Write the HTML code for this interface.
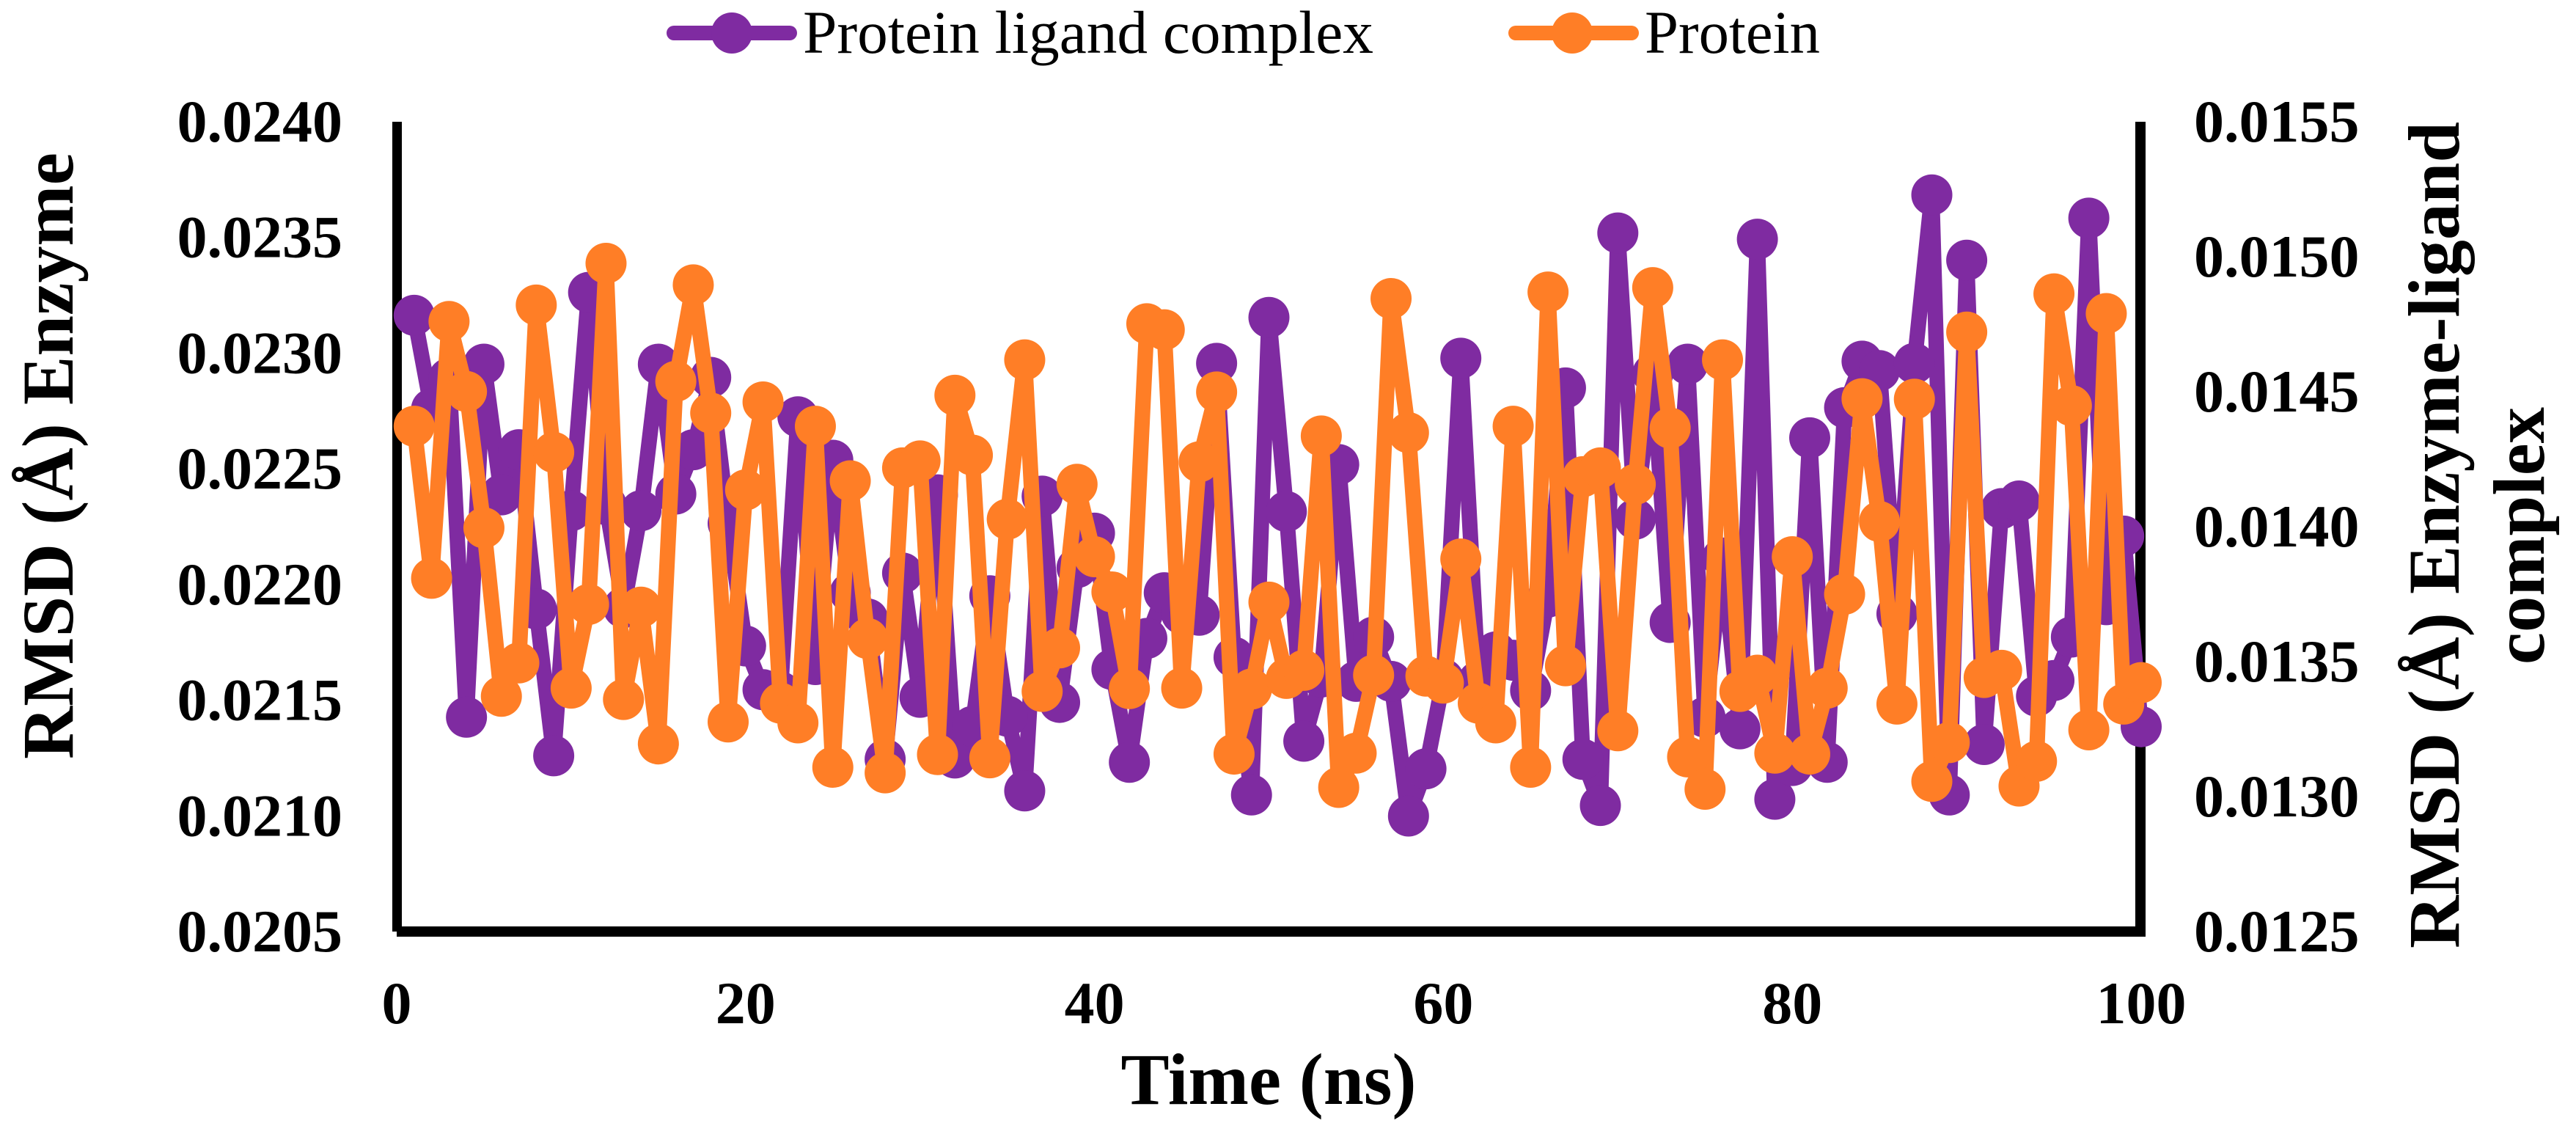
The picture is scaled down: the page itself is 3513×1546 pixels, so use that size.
<!DOCTYPE html>
<html lang="en">
<head>
<meta charset="utf-8">
<title>RMSD over time</title>
<style>
  html, body { margin: 0; padding: 0; background: #ffffff; }
  svg { display: block; }
  text { font-family: "Liberation Serif", serif; fill: #000000; }
  .tick { font-size: 82px; font-weight: 700; }
  .title { font-size: 100px; font-weight: 700; }
  .legend { font-size: 83px; font-weight: 400; }
</style>
</head>
<body>
<svg id="chart" xmlns="http://www.w3.org/2000/svg" width="3513" height="1546" viewBox="0 0 3513 1546">
  <rect x="0" y="0" width="3513" height="1546" fill="#ffffff"/>
  <g>
    <rect x="535" y="166" width="13" height="1104" fill="#000"/>
    <rect x="2912" y="166" width="14" height="1111" fill="#000"/>
    <rect x="541" y="1263" width="2385" height="14" fill="#000"/>
  </g>
  <g id="x-ticks"></g>
  <g id="left-ticks"></g>
  <g id="right-ticks"></g>
  <g id="series"></g>

  <text class="title" x="1730" y="1505" text-anchor="middle" textLength="403" lengthAdjust="spacingAndGlyphs">Time (ns)</text>
  <text class="title" transform="translate(99 621.5) rotate(-90)" text-anchor="middle" textLength="827" lengthAdjust="spacingAndGlyphs">RMSD (Å) Enzyme</text>
  <text class="title" transform="translate(3353 729.5) rotate(-90)" text-anchor="middle" textLength="1127" lengthAdjust="spacingAndGlyphs">RMSD (Å) Enzyme-ligand</text>
  <text class="title" transform="translate(3469 730.5) rotate(-90)" text-anchor="middle" textLength="351" lengthAdjust="spacingAndGlyphs">complex</text>

  <g>
    <g>
      <line x1="919" y1="45" x2="1077" y2="45" stroke="#7f2ba1" stroke-width="20" stroke-linecap="round"/>
      <circle cx="998" cy="45" r="28" fill="#7f2ba1"/>
      <text class="legend" x="1095" y="72" textLength="778" lengthAdjust="spacingAndGlyphs">Protein ligand complex</text>
    </g>
    <g>
      <line x1="2067" y1="45" x2="2225" y2="45" stroke="#ff7e26" stroke-width="20" stroke-linecap="round"/>
      <circle cx="2144" cy="45" r="28" fill="#ff7e26"/>
      <text class="legend" x="2243" y="72" textLength="239" lengthAdjust="spacingAndGlyphs">Protein</text>
    </g>
  </g>
</svg>
<script>
const xTickLabels = ["0", "20", "40", "60", "80", "100"];
const leftTickLabels = ["0.0205", "0.0210", "0.0215", "0.0220", "0.0225", "0.0230", "0.0235", "0.0240"];
const rightTickLabels = ["0.0125", "0.0130", "0.0135", "0.0140", "0.0145", "0.0150", "0.0155"];

const complexRmsd = [
  0.014783, 0.014436, 0.014550, 0.013294, 0.014602, 0.014118, 0.014285, 0.013695, 0.013151, 0.014059,
  0.014868, 0.014082, 0.013700, 0.014059, 0.014602, 0.014121, 0.014285, 0.014553, 0.014012, 0.013558,
  0.013396, 0.013388, 0.014407, 0.013489, 0.014246, 0.013755, 0.013658, 0.013138, 0.013828, 0.013368,
  0.014118, 0.013143, 0.013260, 0.013744, 0.013298, 0.013021, 0.014113, 0.013349, 0.013848, 0.013976,
  0.013471, 0.013127, 0.013586, 0.013755, 0.013677, 0.013672, 0.014605, 0.013516, 0.013006, 0.014775,
  0.014056, 0.013205, 0.013443, 0.014230, 0.013427, 0.013591, 0.013427, 0.012928, 0.013103, 0.013435,
  0.014624, 0.013427, 0.013536, 0.013505, 0.013393, 0.013739, 0.014514, 0.013138, 0.012967, 0.015088,
  0.014028, 0.014566, 0.013645, 0.014602, 0.013294, 0.013884, 0.013251, 0.015065, 0.012990, 0.013115,
  0.014329, 0.013127, 0.014441, 0.014613, 0.014578, 0.013677, 0.014605, 0.015229, 0.013006, 0.014987,
  0.013193, 0.014067, 0.014095, 0.013372, 0.013430, 0.013591, 0.015143, 0.013711, 0.013965, 0.013259
];

const proteinRmsd = [
  0.022684, 0.022027, 0.023137, 0.022834, 0.022245, 0.021517, 0.021661, 0.023208, 0.022571, 0.021552,
  0.021914, 0.023388, 0.021503, 0.021902, 0.021311, 0.022878, 0.023295, 0.022741, 0.021406, 0.022409,
  0.022789, 0.021487, 0.021402, 0.022684, 0.021210, 0.022448, 0.021766, 0.021186, 0.022504, 0.022534,
  0.021265, 0.022818, 0.022559, 0.021251, 0.022282, 0.022971, 0.021538, 0.021726, 0.022433, 0.022120,
  0.021968, 0.021550, 0.023127, 0.023101, 0.021552, 0.022530, 0.022832, 0.021267, 0.021548, 0.021924,
  0.021594, 0.021629, 0.022642, 0.021123, 0.021271, 0.021608, 0.023236, 0.022656, 0.021604, 0.021574,
  0.022110, 0.021487, 0.021402, 0.022684, 0.021210, 0.023264, 0.021649, 0.022466, 0.022504, 0.021368,
  0.022433, 0.023283, 0.022676, 0.021255, 0.021115, 0.022971, 0.021538, 0.021608, 0.021271, 0.022120,
  0.021267, 0.021552, 0.021958, 0.022803, 0.022272, 0.021483, 0.022801, 0.021149, 0.021317, 0.023091,
  0.021598, 0.021629, 0.021129, 0.021236, 0.023256, 0.022773, 0.021372, 0.023171, 0.021483, 0.021576
];

const SVG_NS = "http://www.w3.org/2000/svg";
const plotTop = 166, plotBottom = 1270, plotLeft = 541, plotRight = 2920;

function xScale(t) { return plotLeft + (t / 100) * (plotRight - plotLeft); }
function yLeft(v) { return plotBottom - ((v - 0.0205) / (0.0240 - 0.0205)) * (plotBottom - plotTop); }
function yRight(v) { return plotBottom - ((v - 0.0125) / (0.0155 - 0.0125)) * (plotBottom - plotTop); }

function addTickText(parentId, label, x, y, anchor) {
  const t = document.createElementNS(SVG_NS, "text");
  t.setAttribute("class", "tick");
  t.setAttribute("x", x);
  t.setAttribute("y", y);
  t.setAttribute("text-anchor", anchor);
  
  
  t.textContent = label;
  document.getElementById(parentId).appendChild(t);
}

xTickLabels.forEach(function (l) { addTickText("x-ticks", l, xScale(parseFloat(l)), 1395, "middle"); });
leftTickLabels.forEach(function (l) { addTickText("left-ticks", l, 467, yLeft(parseFloat(l)) + 27, "end"); });
rightTickLabels.forEach(function (l) { addTickText("right-ticks", l, 2992, yRight(parseFloat(l)) + 27, "start"); });

function drawSeries(values, yFn, color, seriesName) {
  const group = document.createElementNS(SVG_NS, "g");
  
  
  const pts = values.map(function (v, i) { return xScale(i + 1) + "," + yFn(v); });
  const line = document.createElementNS(SVG_NS, "polyline");
  line.setAttribute("points", pts.join(" "));
  line.setAttribute("fill", "none");
  line.setAttribute("stroke", color);
  line.setAttribute("stroke-width", "21");
  line.setAttribute("stroke-linejoin", "round");
  
  
  group.appendChild(line);
  values.forEach(function (v, i) {
    const c = document.createElementNS(SVG_NS, "circle");
    c.setAttribute("cx", xScale(i + 1));
    c.setAttribute("cy", yFn(v));
    c.setAttribute("r", "28");
    c.setAttribute("fill", color);
    
    
    group.appendChild(c);
  });
  document.getElementById("series").appendChild(group);
}

drawSeries(complexRmsd, yRight, "#7f2ba1", "series-protein-ligand-complex");
drawSeries(proteinRmsd, yLeft, "#ff7e26", "series-protein");
</script>
</body>
</html>
